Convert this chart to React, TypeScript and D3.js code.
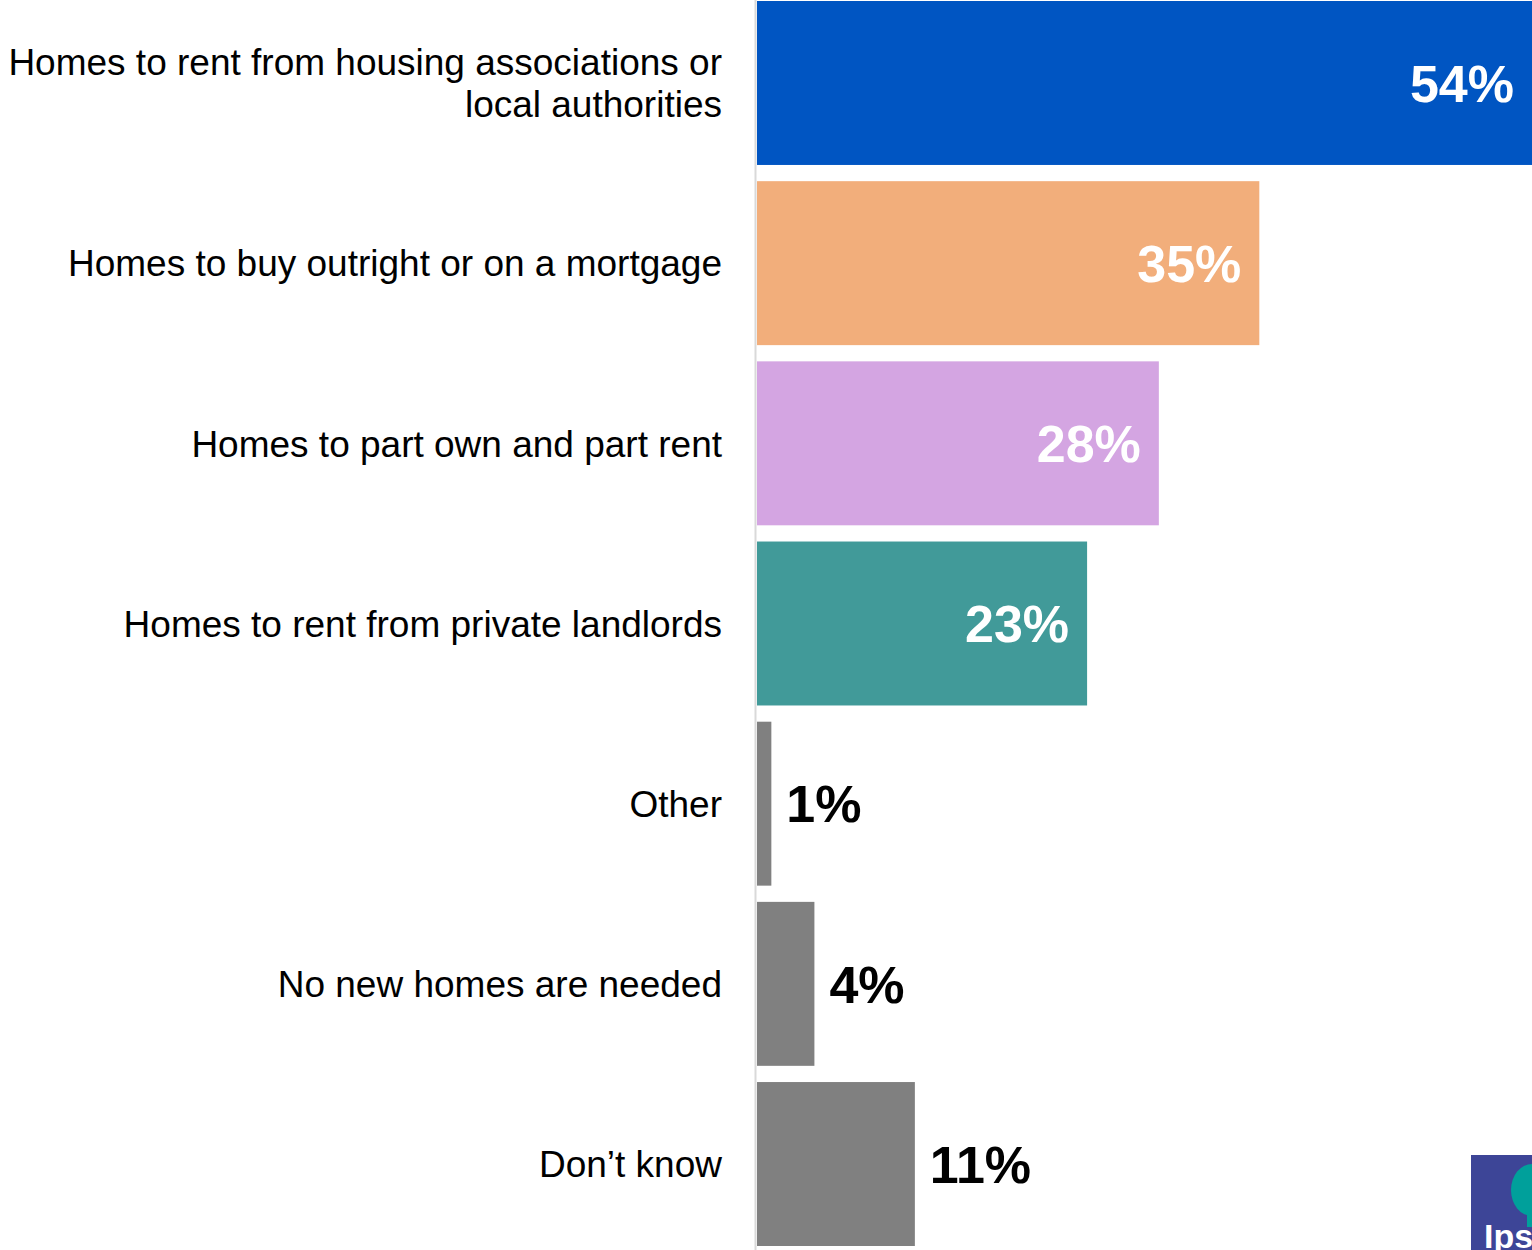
import React from 'react';
import * as d3 from 'd3';

const categories = [
  'Homes to rent from housing associations or|local authorities',
  'Homes to buy outright or on a mortgage',
  'Homes to part own and part rent',
  'Homes to rent from private landlords',
  'Other',
  'No new homes are needed',
  'Don\u2019t know',
];
const values = [54, 35, 28, 23, 1, 4, 11];
const colors = ['#0055c2', '#f2ae7b', '#d4a5e2', '#419a99', '#808080', '#808080', '#808080'];

const W = 1532;
const H = 1250;
const font = '"Liberation Sans", Arial, sans-serif';

const App: React.FC = () => {
  const y = d3.scaleBand<string>().domain(categories).range([1, 1246]).paddingInner(0.09).paddingOuter(0);
  const x = d3.scaleLinear().domain([0, 54]).range([757, W]);
  const labelSize = 37;

  return (
    <svg width={W} height={H} style={{ position: 'absolute', left: 0, top: 0, background: '#fff' }}>
      <line x1={755.5} x2={755.5} y1={0} y2={H} stroke="#d9d9d9" strokeWidth={2} />
      {categories.map((c, i) => {
        const y0 = y(c)!;
        const bw = y.bandwidth();
        const cy = y0 + bw / 2;
        const x1 = x(values[i]);
        const inside = values[i] > 15;
        const lines = c.split('|');
        const lh = 42;
        return (
          <g key={c}>
            <rect x={x(0)} y={y0} width={x1 - x(0)} height={bw} fill={colors[i]} />
            <text
              x={inside ? x1 - 18 : x1 + 15}
              y={cy}
              dy="0.36em"
              textAnchor={inside ? 'end' : 'start'}
              fontFamily={font}
              fontWeight="bold"
              fontSize={52}
              fill={inside ? '#fff' : '#000'}
            >
              {values[i]}%
            </text>
            <text x={722} y={cy} textAnchor="end" fontFamily={font} fontSize={labelSize} fill="#000">
              {lines.map((l, j) => (
                <tspan key={j} x={722} dy={j === 0 ? 0.36 * labelSize - ((lines.length - 1) * lh) / 2 : lh}>
                  {l}
                </tspan>
              ))}
            </text>
          </g>
        );
      })}
      {/* logo */}
      <g>
        <rect x={1471} y={1155} width={61} height={95} fill="#3d4597" />
        <ellipse cx={1532} cy={1190} rx={21} ry={26} fill="#00a09b" />
        <rect x={1527} y={1205} width={5} height={22} fill="#00a09b" />
        <text x={1484} y={1248} fontFamily={font} fontWeight="bold" fontSize={34} fill="#fff">
          Ipsos
        </text>
      </g>
    </svg>
  );
};

export default App;
